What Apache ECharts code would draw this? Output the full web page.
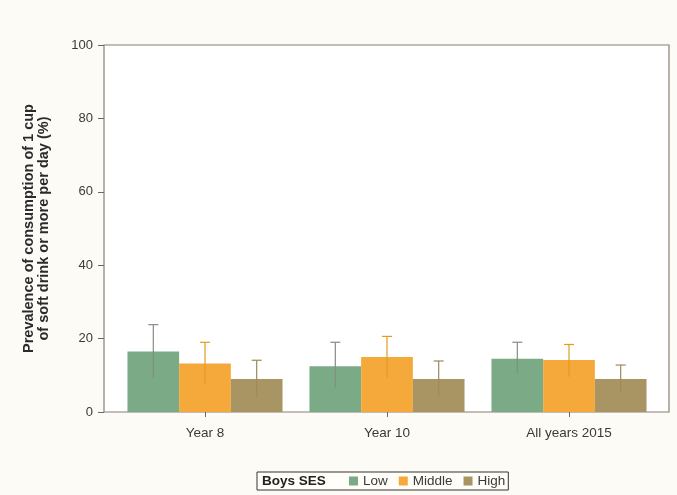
<!DOCTYPE html>
<html>
<head>
<meta charset="utf-8">
<script src="https://cdn.jsdelivr.net/npm/echarts@6/dist/echarts.min.js"></script>
<style>html,body{margin:0;padding:0;background:#fcfbf5;}#c{width:677px;height:495px;}</style>
</head>
<body>
<div id="c"></div>
<script>
const categories = ['Year 8', 'Year 10', 'All years 2015'];
const seriesNames = ['Low', 'Middle', 'High'];
const lowValues = [16.5, 12.5, 14.5];
const middleValues = [13.2, 15.0, 14.2];
const highValues = [9.0, 9.0, 9.0];
const lowCI = [[9.4, 23.8], [6.7, 19.0], [10.6, 19.0]];
const middleCI = [[7.4, 19.0], [9.4, 20.6], [9.6, 18.4]];
const highCI = [[4.0, 14.1], [4.2, 13.9], [5.2, 12.8]];
const yTicks = [0, 20, 40, 60, 80, 100];
const legendTitle = 'Boys SES';

const barColors = ['#7aaa86', '#f4a93a', '#a99563'];
const errColors = ['#858d84', '#e39a22', '#9b8a5b'];
const values = [lowValues, middleValues, highValues];
const cis = [lowCI, middleCI, highCI];

const chart = echarts.init(document.getElementById('c'), null, {renderer: 'canvas'});
const font = 'Liberation Sans, Arial, sans-serif';

const series = [];
seriesNames.forEach((n, i) => {
  series.push({
    name: n, type: 'bar', xAxisIndex: 1, yAxisIndex: 1,
    data: values[i], barWidth: '28.4%', barGap: '0%',
    itemStyle: {color: barColors[i]}, z: 2
  });
});
seriesNames.forEach((n, i) => {
  series.push({
    type: 'custom', xAxisIndex: 1, yAxisIndex: 1, z: 3,
    data: cis[i].map((c, k) => [k, c[0], c[1]]),
    renderItem: function (params, api) {
      const band = api.size([1, 0])[0];
      const bw = band * 0.284;
      const off = (i - 1) * bw;
      const lo = api.coord([api.value(0), api.value(1)]);
      const hi = api.coord([api.value(0), api.value(2)]);
      const x = lo[0] + off;
      const cap = 5;
      const st = {stroke: errColors[i], lineWidth: 1.2};
      return {type: 'group', children: [
        {type: 'line', shape: {x1: x, y1: lo[1], x2: x, y2: hi[1]}, style: st},
        {type: 'line', shape: {x1: x - cap, y1: hi[1], x2: x + cap, y2: hi[1]}, style: st}
      ]};
    }
  });
});

chart.setOption({
  backgroundColor: '#fcfbf5',
  animation: false,
  grid: [
    {left: 104, right: 8, top: 45, bottom: 83, show: true, backgroundColor: '#ffffff', borderColor: '#8a7f78', borderWidth: 1.2},
    {left: 114, right: 17, top: 45, bottom: 83}
  ],
  xAxis: [
    {gridIndex: 0, type: 'value', show: false, min: 0, max: 1},
    {gridIndex: 1, type: 'category', data: categories,
     axisLine: {show: false},
     axisTick: {show: true, alignWithLabel: true, length: 5, lineStyle: {color: '#6e6660'}},
     axisLabel: {color: '#3a3a3a', fontFamily: font, fontSize: 13.5, margin: 14}}
  ],
  yAxis: [
    {gridIndex: 0, type: 'value', show: false, min: 0, max: 100},
    {gridIndex: 1, type: 'value', min: 0, max: 100, interval: 20, offset: 10,
     name: 'Prevalence of consumption of 1 cup\nof soft drink or more per day (%)',
     nameLocation: 'middle', nameRotate: 90, nameGap: 53,
     nameTextStyle: {fontFamily: font, fontSize: 14.5, fontWeight: 'bold', color: '#2b2b2b', lineHeight: 15},
     axisLine: {show: false},
     axisTick: {show: true, length: 6, lineStyle: {color: '#6e6660'}},
     axisLabel: {color: '#3a3a3a', fontFamily: font, fontSize: 13, margin: 11,
       formatter: v => (yTicks.indexOf(v) >= 0 ? String(v) : '')},
     splitLine: {show: false}}
  ],
  legend: {
    top: 472, left: 257,
    data: seriesNames,
    selectedMode: false,
    itemWidth: 9, itemHeight: 9, itemGap: 11,
    icon: 'rect',
    textStyle: {fontFamily: font, fontSize: 13.5, color: '#3a3a3a'},
    borderColor: '#333', borderWidth: 1, padding: [2, 3, 2, 92], backgroundColor: '#fffef9'
  },
  graphic: [{
    type: 'text', left: 262, top: 474, z: 100,
    style: {text: legendTitle, font: 'bold 13.5px Liberation Sans, Arial, sans-serif', fill: '#222'}
  }],
  series: series
});
</script>
</body>
</html>
